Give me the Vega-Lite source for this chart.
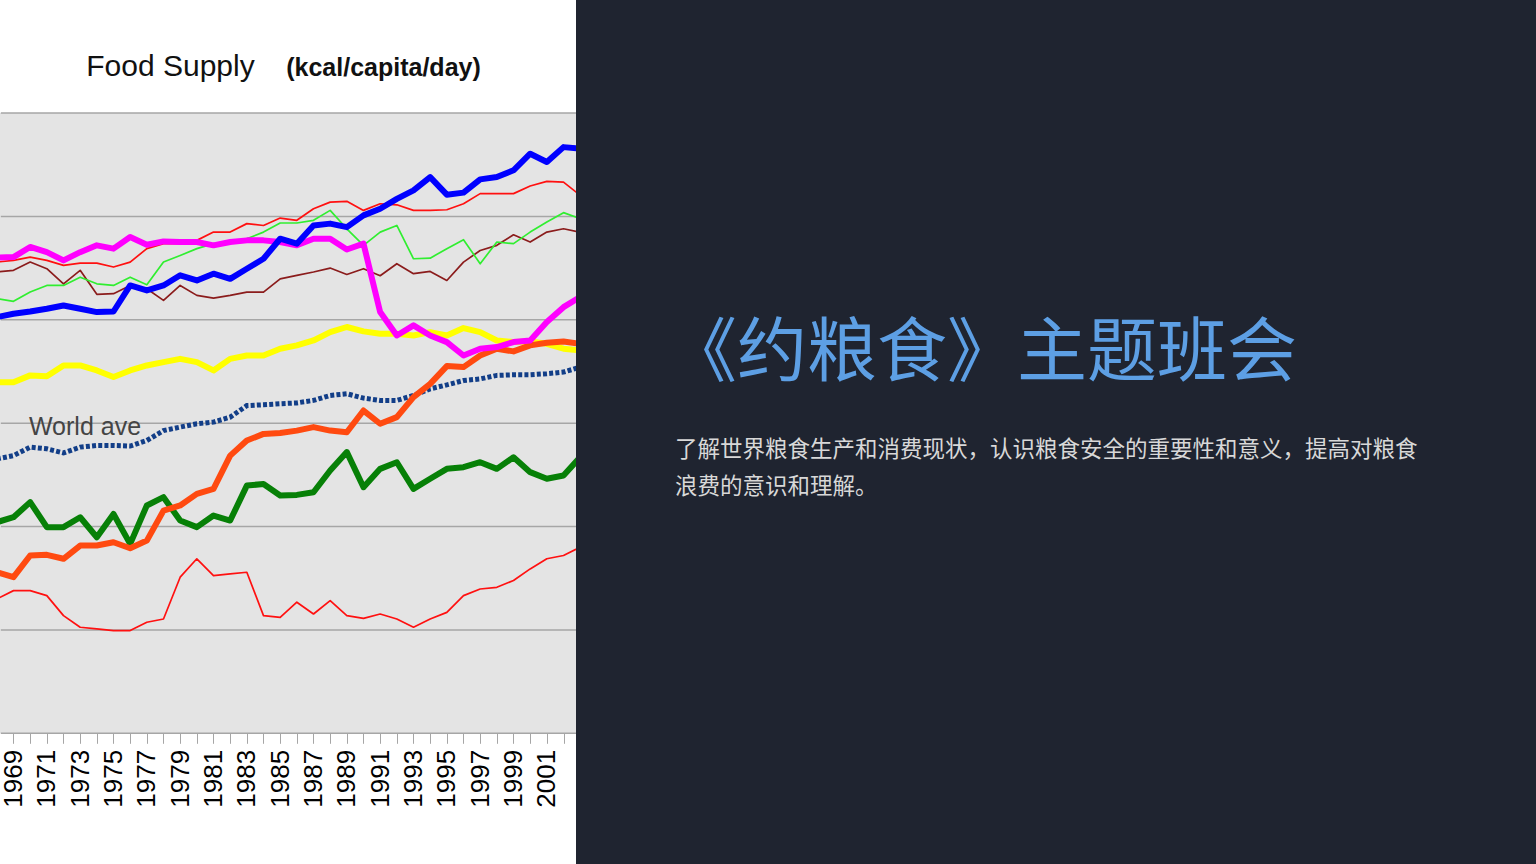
{
  "$schema": "https://vega.github.io/schema/vega-lite/v6.json",
  "background": "#ffffff",
  "padding": 0,
  "spacing": 0,
  "bounds": "flush",
  "config": {"view": {"stroke": null}, "font": "Liberation Sans"},
  "datasets": {
    "food": [
      {"year":1968,"us":3013,"fr":3279,"it":3102,"de":3231,"ru":3300,"jp":2698,"cn":1779,"world":2327,"ind":2021,"af":1650},
      {"year":1969,"us":3029,"fr":3287,"it":3089,"de":3239,"ru":3303,"jp":2698,"cn":1755,"world":2343,"ind":2045,"af":1690},
      {"year":1970,"us":3040,"fr":3303,"it":3134,"de":3279,"ru":3352,"jp":2731,"cn":1860,"world":2384,"ind":2118,"af":1690},
      {"year":1971,"us":3053,"fr":3287,"it":3166,"de":3247,"ru":3327,"jp":2727,"cn":1863,"world":2376,"ind":1997,"af":1666},
      {"year":1972,"us":3069,"fr":3263,"it":3166,"de":3174,"ru":3287,"jp":2779,"cn":1844,"world":2356,"ind":1997,"af":1569},
      {"year":1973,"us":3053,"fr":3274,"it":3206,"de":3239,"ru":3327,"jp":2779,"cn":1908,"world":2384,"ind":2045,"af":1513},
      {"year":1974,"us":3037,"fr":3274,"it":3174,"de":3123,"ru":3360,"jp":2755,"cn":1908,"world":2392,"ind":1948,"af":1505},
      {"year":1975,"us":3040,"fr":3255,"it":3166,"de":3126,"ru":3344,"jp":2723,"cn":1924,"world":2392,"ind":2061,"af":1497},
      {"year":1976,"us":3166,"fr":3279,"it":3206,"de":3166,"ru":3400,"jp":2755,"cn":1895,"world":2389,"ind":1916,"af":1497},
      {"year":1977,"us":3142,"fr":3344,"it":3169,"de":3150,"ru":3363,"jp":2779,"cn":1932,"world":2416,"ind":2102,"af":1537},
      {"year":1978,"us":3166,"fr":3368,"it":3279,"de":3094,"ru":3379,"jp":2795,"cn":2077,"world":2464,"ind":2142,"af":1553},
      {"year":1979,"us":3215,"fr":3368,"it":3311,"de":3166,"ru":3376,"jp":2811,"cn":2102,"world":2481,"ind":2029,"af":1755},
      {"year":1980,"us":3190,"fr":3384,"it":3344,"de":3118,"ru":3376,"jp":2795,"cn":2158,"world":2497,"ind":1997,"af":1844},
      {"year":1981,"us":3223,"fr":3424,"it":3368,"de":3105,"ru":3360,"jp":2755,"cn":2182,"world":2505,"ind":2053,"af":1763},
      {"year":1982,"us":3198,"fr":3424,"it":3376,"de":3118,"ru":3376,"jp":2811,"cn":2343,"world":2529,"ind":2029,"af":1771},
      {"year":1983,"us":3247,"fr":3465,"it":3392,"de":3134,"ru":3384,"jp":2827,"cn":2416,"world":2585,"ind":2198,"af":1779},
      {"year":1984,"us":3295,"fr":3456,"it":3424,"de":3134,"ru":3384,"jp":2827,"cn":2448,"world":2589,"ind":2206,"af":1569},
      {"year":1985,"us":3392,"fr":3492,"it":3468,"de":3198,"ru":3376,"jp":2860,"cn":2452,"world":2594,"ind":2150,"af":1561},
      {"year":1986,"us":3368,"fr":3481,"it":3468,"de":3215,"ru":3360,"jp":2876,"cn":2464,"world":2598,"ind":2153,"af":1634},
      {"year":1987,"us":3456,"fr":3537,"it":3481,"de":3231,"ru":3392,"jp":2900,"cn":2481,"world":2610,"ind":2166,"af":1577},
      {"year":1988,"us":3465,"fr":3569,"it":3529,"de":3250,"ru":3392,"jp":2940,"cn":2464,"world":2634,"ind":2271,"af":1642},
      {"year":1989,"us":3448,"fr":3573,"it":3440,"de":3219,"ru":3340,"jp":2965,"cn":2456,"world":2642,"ind":2360,"af":1569},
      {"year":1990,"us":3505,"fr":3529,"it":3360,"de":3247,"ru":3368,"jp":2944,"cn":2561,"world":2621,"ind":2190,"af":1556},
      {"year":1991,"us":3537,"fr":3561,"it":3424,"de":3213,"ru":3037,"jp":2932,"cn":2497,"world":2610,"ind":2279,"af":1577},
      {"year":1992,"us":3585,"fr":3556,"it":3456,"de":3271,"ru":2924,"jp":2932,"cn":2529,"world":2610,"ind":2311,"af":1553},
      {"year":1993,"us":3626,"fr":3529,"it":3295,"de":3223,"ru":2973,"jp":2924,"cn":2626,"world":2634,"ind":2182,"af":1513},
      {"year":1994,"us":3690,"fr":3529,"it":3298,"de":3234,"ru":2924,"jp":2940,"cn":2690,"world":2666,"ind":2231,"af":1553},
      {"year":1995,"us":3605,"fr":3532,"it":3344,"de":3190,"ru":2892,"jp":2924,"cn":2776,"world":2685,"ind":2279,"af":1585},
      {"year":1996,"us":3615,"fr":3561,"it":3387,"de":3279,"ru":2827,"jp":2960,"cn":2771,"world":2706,"ind":2287,"af":1666},
      {"year":1997,"us":3679,"fr":3610,"it":3271,"de":3335,"ru":2860,"jp":2940,"cn":2827,"world":2714,"ind":2311,"af":1698},
      {"year":1998,"us":3690,"fr":3610,"it":3376,"de":3360,"ru":2868,"jp":2900,"cn":2860,"world":2731,"ind":2279,"af":1706},
      {"year":1999,"us":3723,"fr":3610,"it":3368,"de":3411,"ru":2892,"jp":2892,"cn":2847,"world":2734,"ind":2335,"af":1739},
      {"year":2000,"us":3803,"fr":3647,"it":3424,"de":3376,"ru":2900,"jp":2895,"cn":2876,"world":2734,"ind":2263,"af":1795},
      {"year":2001,"us":3763,"fr":3669,"it":3473,"de":3424,"ru":2989,"jp":2884,"cn":2889,"world":2739,"ind":2231,"af":1844},
      {"year":2002,"us":3835,"fr":3666,"it":3518,"de":3440,"ru":3061,"jp":2860,"cn":2895,"world":2747,"ind":2247,"af":1860},
      {"year":2003,"us":3827,"fr":3602,"it":3489,"de":3424,"ru":3110,"jp":2852,"cn":2884,"world":2771,"ind":2335,"af":1900}
    ],
    "grid": [
      {"kcal": 1000, "year": 1968.24, "year2": 2002.75},
      {"kcal": 1500, "year": 1968.24, "year2": 2002.75},
      {"kcal": 2000, "year": 1968.24, "year2": 2002.75},
      {"kcal": 2500, "year": 1968.24, "year2": 2002.75},
      {"kcal": 3000, "year": 1968.24, "year2": 2002.75},
      {"kcal": 3500, "year": 1968.24, "year2": 2002.75},
      {"kcal": 4000, "year": 1968.24, "year2": 2002.75}
    ],
    "panel": [{"year": 1968.19, "year2": 2002.75, "kcal": 1000, "kcal2": 4000}],
    "note": [{"label": "World ave", "year": 1973.29, "kcal": 2481}],
    "slide": [
      {"kind": "title", "text": "《约粮食》主题班会"},
      {"kind": "body", "text": "了解世界粮食生产和消费现状，认识粮食安全的重要性和意义，提高对粮食\n浪费的意识和理解。"}
    ]
  },
  "hconcat": [
    {
      "width": 576,
      "height": 864,
      "encoding": {
        "x": {
          "field": "year", "type": "quantitative",
          "scale": {"domain": [1968.19, 2002.75], "nice": false, "zero": false},
          "axis": {
            "orient": "bottom", "offset": -130.7,
            "values": [1969,1970,1971,1972,1973,1974,1975,1976,1977,1978,1979,1980,1981,1982,1983,1984,1985,1986,1987,1988,1989,1990,1991,1992,1993,1994,1995,1996,1997,1998,1999,2000,2001,2002],
            "format": "d",
            "labelExpr": "datum.value % 2 == 1 ? datum.label : ''",
            "labelAngle": 270, "labelFont": "Liberation Sans", "labelFontSize": 26, "labelColor": "#000000",
            "labelPadding": 6, "labelOverlap": false, "labelFlush": false, "labelBound": false,
            "tickSize": 10, "tickColor": "#a6a6a6", "tickWidth": 1,
            "domain": false, "grid": false,
            "title": "Food Supply", "titleX": 170, "titleY": -657.5, "titleAngle": 0,
            "titleAlign": "center", "titleBaseline": "alphabetic",
            "titleFont": "Liberation Sans", "titleFontSize": 30, "titleFontWeight": "normal", "titleColor": "#111111"
          }
        },
        "y": {
          "field": "kcal", "type": "quantitative",
          "scale": {"domain": [367.9, 4546.5], "nice": false, "zero": false},
          "axis": {
            "orient": "left", "grid": false, "labels": false, "ticks": false, "domain": false,
            "title": "(kcal/capita/day)", "titleX": 383, "titleY": 75.5, "titleAngle": 0,
            "titleAlign": "center", "titleBaseline": "alphabetic",
            "titleFont": "Liberation Sans", "titleFontSize": 25, "titleFontWeight": "bold", "titleColor": "#111111"
          }
        }
      },
      "layer": [
        {
          "data": {"name": "panel"},
          "mark": {"type": "rect", "color": "#e4e4e4"},
          "encoding": {"x2": {"field": "year2"}, "y2": {"field": "kcal2"}}
        },
        {
          "data": {"name": "grid"},
          "mark": {"type": "rule", "color": "#a6a6a6", "strokeWidth": 1.5},
          "encoding": {"x2": {"field": "year2"}}
        },
        {
          "data": {"name": "food"},
          "transform": [
            {"fold": ["af","de","it","fr","world","ind","jp","cn","ru","us"], "as": ["series","kcal"]},
            {"filter": {"field": "series", "oneOf": ["af","de","it","fr"]}}
          ],
          "mark": {"type": "line", "strokeWidth": 1.7, "clip": true, "strokeJoin": "round"},
          "encoding": {
            "color": {"field": "series", "type": "nominal", "legend": null,
              "scale": {"domain": ["af","de","it","fr","world","ind","jp","cn","ru","us"],
                        "range": ["#ff1010","#8b1c1c","#30ee30","#ff1010","#123e88","#078007","#ffff00","#ff4a10","#ff00ff","#0000ff"]}}
          }
        },
        {
          "data": {"name": "food"},
          "transform": [
            {"fold": ["af","de","it","fr","world","ind","jp","cn","ru","us"], "as": ["series","kcal"]},
            {"filter": {"field": "series", "equal": "world"}}
          ],
          "mark": {"type": "line", "strokeWidth": 5, "strokeDash": [4, 2.2], "strokeCap": "butt", "clip": true},
          "encoding": {
            "color": {"field": "series", "type": "nominal", "legend": null,
              "scale": {"domain": ["af","de","it","fr","world","ind","jp","cn","ru","us"],
                        "range": ["#ff1010","#8b1c1c","#30ee30","#ff1010","#123e88","#078007","#ffff00","#ff4a10","#ff00ff","#0000ff"]}}
          }
        },
        {
          "data": {"name": "food"},
          "transform": [
            {"fold": ["af","de","it","fr","world","ind","jp","cn","ru","us"], "as": ["series","kcal"]},
            {"filter": {"field": "series", "oneOf": ["ind","jp","cn","ru","us"]}}
          ],
          "mark": {"type": "line", "strokeWidth": 6, "clip": true, "strokeJoin": "round"},
          "encoding": {
            "color": {"field": "series", "type": "nominal", "legend": null,
              "scale": {"domain": ["af","de","it","fr","world","ind","jp","cn","ru","us"],
                        "range": ["#ff1010","#8b1c1c","#30ee30","#ff1010","#123e88","#078007","#ffff00","#ff4a10","#ff00ff","#0000ff"]}}
          }
        },
        {
          "data": {"name": "note"},
          "mark": {"type": "text", "align": "center", "baseline": "middle", "font": "Liberation Sans", "fontSize": 25, "color": "#444444"},
          "encoding": {"text": {"field": "label"}}
        }
      ]
    },
    {
      "width": 960,
      "height": 864,
      "view": {"fill": "#1f2430", "stroke": null},
      "data": {"name": "slide"},
      "layer": [
        {
          "transform": [{"filter": "datum.kind === 'title'"}],
          "mark": {"type": "text", "align": "left", "baseline": "alphabetic", "font": "Noto Sans CJK SC", "fontSize": 70, "color": "#5d9fe4"},
          "encoding": {
            "x": {"datum": 91, "type": "quantitative", "scale": {"domain": [0, 960], "nice": false, "zero": false}, "axis": null},
            "y": {"datum": 376, "type": "quantitative", "scale": {"domain": [0, 864], "reverse": true, "nice": false, "zero": false}, "axis": null},
            "text": {"field": "text"}
          }
        },
        {
          "transform": [{"filter": "datum.kind === 'body'"}],
          "mark": {"type": "text", "align": "left", "baseline": "alphabetic", "font": "Noto Sans CJK SC", "fontSize": 22.5, "lineBreak": "\n", "lineHeight": 37, "color": "#d8d8d8"},
          "encoding": {
            "x": {"datum": 99, "type": "quantitative", "scale": {"domain": [0, 960], "nice": false, "zero": false}, "axis": null},
            "y": {"datum": 457, "type": "quantitative", "scale": {"domain": [0, 864], "reverse": true, "nice": false, "zero": false}, "axis": null},
            "text": {"field": "text"}
          }
        }
      ]
    }
  ]
}
